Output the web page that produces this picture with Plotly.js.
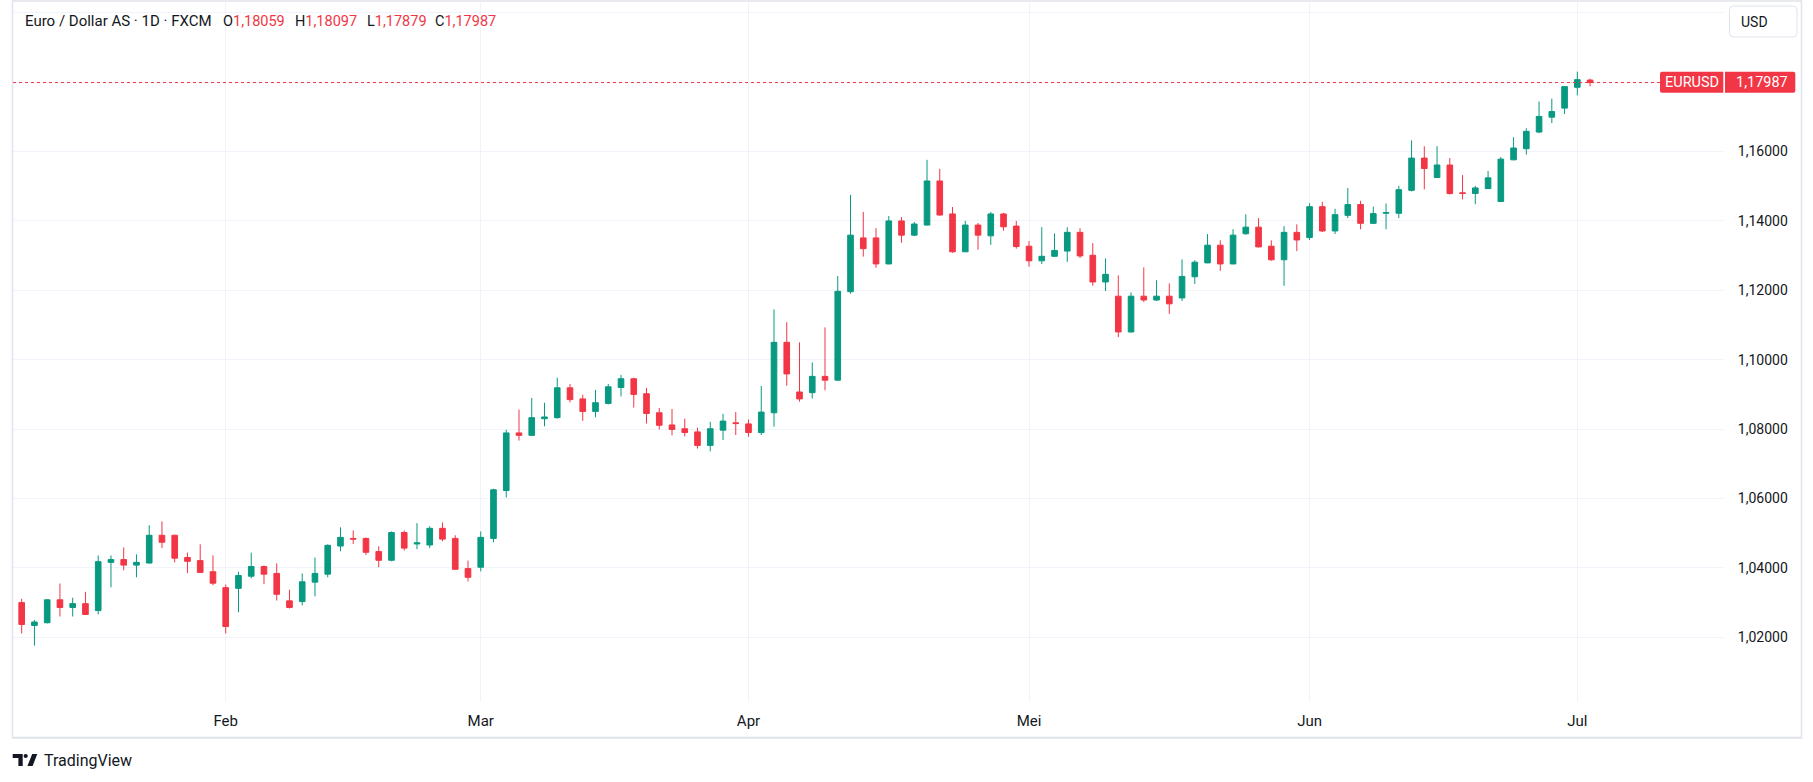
<!DOCTYPE html>
<html>
<head>
<meta charset="utf-8">
<script src="https://cdn.plot.ly/plotly-3.0.1.min.js"></script>
<style>
html,body{margin:0;padding:0;background:#ffffff;}
#chart{width:1813px;height:782px;}
</style>
</head>
<body>
<div id="chart"></div>
<script>
// ---- data (EUR/USD daily, FXCM) ----
const OPEN = [1.0300,1.0234,1.0242,1.0308,1.0286,1.0297,1.0277,1.0416,1.0424,1.0408,
1.0414,1.0494,1.0494,1.0430,1.0421,1.0389,1.0343,1.0341,1.0376,1.0404,
1.0384,1.0305,1.0303,1.0359,1.0382,1.0463,1.0485,1.0485,1.0447,1.0422,
1.0502,1.0469,1.0466,1.0514,1.0485,1.0398,1.0402,1.0485,1.0623,1.0789,
1.0782,1.0830,1.0833,1.0919,1.0887,1.0851,1.0874,1.0920,1.0945,1.0902,
1.0847,1.0812,1.0801,1.0792,1.0753,1.0797,1.0818,1.0815,1.0790,1.0847,
1.1050,1.0907,1.0905,1.0952,1.0941,1.1196,1.1351,1.1351,1.1276,1.1400,
1.1359,1.1388,1.1515,1.1420,1.1311,1.1388,1.1357,1.1420,1.1385,1.1327,
1.1285,1.1298,1.1313,1.1367,1.1301,1.1224,1.1183,1.1080,1.1183,1.1172,
1.1183,1.1178,1.1239,1.1279,1.1330,1.1276,1.1363,1.1382,1.1327,1.1288,
1.1367,1.1352,1.1441,1.1371,1.1416,1.1447,1.1393,1.1422,1.1422,1.1488,
1.1581,1.1525,1.1561,1.1481,1.1479,1.1493,1.1456,1.1576,1.1608,1.1656,
1.1699,1.1725,1.1785,1.18059];
const HIGH = [1.0311,1.0250,1.0310,1.0355,1.0314,1.0331,1.0436,1.0436,1.0459,1.0439,
1.0523,1.0534,1.0496,1.0444,1.0468,1.0436,1.0352,1.0389,1.0444,1.0407,
1.0413,1.0337,1.0384,1.0430,1.0468,1.0517,1.0508,1.0488,1.0462,1.0505,
1.0508,1.0529,1.0520,1.0531,1.0494,1.0421,1.0505,1.0628,1.0798,1.0856,
1.0890,1.0876,1.0948,1.0930,1.0899,1.0913,1.0930,1.0956,1.0948,1.0919,
1.0861,1.0858,1.0830,1.0804,1.0821,1.0844,1.0849,1.0828,1.0924,1.1145,
1.1108,1.1050,1.0992,1.1093,1.1241,1.1475,1.1426,1.1379,1.1414,1.1411,
1.1397,1.1576,1.1550,1.1440,1.1400,1.1394,1.1426,1.1423,1.1400,1.1342,
1.1382,1.1364,1.1382,1.1379,1.1336,1.1292,1.1243,1.1194,1.1266,1.1229,
1.1220,1.1289,1.1287,1.1362,1.1344,1.1376,1.1419,1.1408,1.1344,1.1385,
1.1390,1.1451,1.1455,1.1435,1.1495,1.1458,1.1441,1.1450,1.1501,1.1632,
1.1615,1.1615,1.1581,1.1532,1.1501,1.1544,1.1584,1.1641,1.1667,1.1744,
1.1752,1.1788,1.1830,1.18097];
const LOW = [1.0211,1.0176,1.0240,1.0260,1.0260,1.0264,1.0266,1.0344,1.0393,1.0373,
1.0413,1.0457,1.0416,1.0385,1.0386,1.0350,1.0211,1.0272,1.0370,1.0353,
1.0306,1.0283,1.0292,1.0318,1.0373,1.0448,1.0469,1.0437,1.0402,1.0419,
1.0450,1.0454,1.0457,1.0477,1.0395,1.0361,1.0390,1.0474,1.0603,1.0767,
1.0781,1.0808,1.0830,1.0877,1.0824,1.0834,1.0871,1.0894,1.0862,1.0816,
1.0799,1.0782,1.0779,1.0744,1.0736,1.0769,1.0783,1.0778,1.0783,1.0807,
1.0925,1.0879,1.0888,1.0912,1.0940,1.1190,1.1297,1.1265,1.1275,1.1337,
1.1356,1.1387,1.1415,1.1308,1.1310,1.1317,1.1331,1.1372,1.1320,1.1268,
1.1276,1.1296,1.1282,1.1293,1.1213,1.1198,1.1065,1.1078,1.1166,1.1169,
1.1132,1.1169,1.1218,1.1278,1.1256,1.1275,1.1360,1.1324,1.1285,1.1213,
1.1313,1.1345,1.1368,1.1362,1.1408,1.1376,1.1391,1.1376,1.1408,1.1485,
1.1491,1.1524,1.1476,1.1462,1.1448,1.1492,1.1455,1.1575,1.1591,1.1653,
1.1682,1.1708,1.1762,1.17879];
const CLOSE = [1.0237,1.0244,1.0308,1.0286,1.0297,1.0266,1.0418,1.0424,1.0408,1.0416,
1.0494,1.0474,1.0428,1.0419,1.0387,1.0356,1.0231,1.0378,1.0404,1.0382,
1.0324,1.0286,1.0360,1.0384,1.0465,1.0488,1.0483,1.0445,1.0422,1.0502,
1.0457,1.0472,1.0514,1.0483,1.0396,1.0373,1.0488,1.0625,1.0789,1.0782,
1.0833,1.0835,1.0919,1.0885,1.0851,1.0876,1.0922,1.0945,1.0900,1.0845,
1.0811,1.0799,1.0790,1.0753,1.0801,1.0823,1.0816,1.0790,1.0849,1.1050,
1.0959,1.0887,1.0952,1.0941,1.1197,1.1359,1.1320,1.1276,1.1400,1.1359,
1.1391,1.1515,1.1417,1.1311,1.1388,1.1359,1.1420,1.1383,1.1326,1.1285,
1.1298,1.1315,1.1367,1.1299,1.1224,1.1246,1.1080,1.1183,1.1172,1.1183,
1.1161,1.1240,1.1281,1.1330,1.1276,1.1359,1.1382,1.1325,1.1288,1.1367,
1.1345,1.1441,1.1371,1.1418,1.1447,1.1393,1.1421,1.1424,1.1490,1.1581,
1.1551,1.1561,1.1479,1.1479,1.1495,1.1524,1.1578,1.1610,1.1658,1.1701,
1.1715,1.1787,1.1807,1.17987];

const MONTH_TICK_INDEX = [16, 36, 57, 79, 101, 122];
const MONTH_LABELS = ["Feb", "Mar", "Apr", "Mei", "Jun", "Jul"];
const PRICE_TICKS = [1.02, 1.04, 1.06, 1.08, 1.10, 1.12, 1.14, 1.16, 1.18, 1.20];
const PRICE_LABELS = ["1,02000","1,04000","1,06000","1,08000","1,10000","1,12000","1,14000","1,16000","",""];
const SYMBOL = "EURUSD";
const TITLE = "Euro / Dollar AS · 1D · FXCM";
const CURRENCY = "USD";

// ---- layout geometry (pixels) ----
const W = 1813, H = 782;
const PL = 13, PR = 1723, PT = 2, PB = 702;
const px = x => (x - PL) / (PR - PL);
const py = y => (PB - y) / (PB - PT);
const P = (x, y) => px(x) + ',' + py(y);

const UP = '#089981', DOWN = '#F23645', TXT = '#131722', GRID = '#f0f3fa', FRAME = '#e0e3eb';
const FONT = 'Roboto, "Noto Sans", sans-serif';

function rrect(x0, y0, x1, y1, rl, rr) {
  return 'M' + P(x0 + rl, y0) + ' L' + P(x1 - rr, y0) + ' Q' + P(x1, y0) + ' ' + P(x1, y0 + rr) +
    ' L' + P(x1, y1 - rr) + ' Q' + P(x1, y1) + ' ' + P(x1 - rr, y1) +
    ' L' + P(x0 + rl, y1) + ' Q' + P(x0, y1) + ' ' + P(x0, y1 - rl) +
    ' L' + P(x0, y0 + rl) + ' Q' + P(x0, y0) + ' ' + P(x0 + rl, y0) + ' Z';
}

const n = CLOSE.length;
const fmt = v => v.toFixed(5).replace('.', ',');
const last = { o: OPEN[n - 1], h: HIGH[n - 1], l: LOW[n - 1], c: CLOSE[n - 1] };
const lastColor = last.c >= last.o ? UP : DOWN;

const trace = {
  type: 'candlestick',
  x: CLOSE.map((_, i) => i),
  open: OPEN, high: HIGH, low: LOW, close: CLOSE,
  increasing: { line: { color: UP, width: 1 }, fillcolor: UP },
  decreasing: { line: { color: DOWN, width: 1 }, fillcolor: DOWN },
  whiskerwidth: 0,
  hoverinfo: 'skip',
  showlegend: false
};

const shapes = [
  // frame
  { type: 'line', xref: 'paper', yref: 'paper', x0: px(12.5), x1: px(12.5), y0: py(0.5), y1: py(738.5), line: { color: FRAME, width: 1.5 } },
  { type: 'line', xref: 'paper', yref: 'paper', x0: px(12), x1: px(1802), y0: py(1), y1: py(1), line: { color: FRAME, width: 1.5 } },
  { type: 'line', xref: 'paper', yref: 'paper', x0: px(1801.5), x1: px(1801.5), y0: py(0.5), y1: py(738.5), line: { color: FRAME, width: 1.5 } },
  { type: 'line', xref: 'paper', yref: 'paper', x0: px(12), x1: px(1802), y0: py(737.8), y1: py(737.8), line: { color: FRAME, width: 2 } },
  // last price line
  { type: 'line', xref: 'paper', yref: 'y', x0: px(13), x1: px(1660), y0: last.c, y1: last.c, line: { color: lastColor, width: 1, dash: 'dot' } },
  // price labels
  { type: 'path', xref: 'paper', yref: 'paper', path: rrect(1660, 71.7, 1723.3, 92.7, 2, 0), fillcolor: lastColor, line: { width: 0 } },
  { type: 'path', xref: 'paper', yref: 'paper', path: rrect(1725, 71.7, 1795.3, 92.7, 0, 2), fillcolor: lastColor, line: { width: 0 } },
  // USD button
  { type: 'path', xref: 'paper', yref: 'paper', path: rrect(1729.5, 6, 1797, 37, 4, 4), fillcolor: '#ffffff', line: { color: FRAME, width: 1 } },
  // TradingView logo
  { type: 'path', xref: 'paper', yref: 'paper', path: 'M' + P(12.7, 754) + ' L' + P(22.7, 754) + ' L' + P(22.7, 766) + ' L' + P(18.4, 766) + ' L' + P(18.4, 758) + ' L' + P(12.7, 758) + ' Z', fillcolor: TXT, line: { width: 0 } },
  { type: 'circle', xref: 'paper', yref: 'paper', x0: px(23.6), x1: px(27.8), y0: py(753.9), y1: py(758.1), fillcolor: TXT, line: { width: 0 } },
  { type: 'path', xref: 'paper', yref: 'paper', path: 'M' + P(32.2, 754) + ' L' + P(37.3, 754) + ' L' + P(32.6, 766) + ' L' + P(27.4, 766) + ' Z', fillcolor: TXT, line: { width: 0 } }
];

const ann = (text, x, y, opts) => Object.assign({
  text: text, xref: 'paper', yref: 'paper', x: px(x), y: py(y),
  xanchor: 'left', yanchor: 'middle', showarrow: false,
  font: { family: FONT, size: 14.5, color: TXT }
}, opts || {});
const red = v => '<span style="color:' + lastColor + '">' + fmt(v) + '</span>';

const annotations = [
  ann(TITLE, 22.5, 21.3, { font: { family: FONT, size: 15, color: TXT } }),
  ann('O' + red(last.o), 220.5, 21.3),
  ann('H' + red(last.h), 293, 21.3),
  ann('L' + red(last.l), 364.5, 21.3),
  ann('C' + red(last.c), 433.4, 21.3),
  ann(CURRENCY, 1739.5, 21.7, { font: { family: FONT, size: 14, color: TXT } }),
  ann(SYMBOL, 1692, 82.4, { xanchor: 'center', font: { family: FONT, size: 14.5, color: '#ffffff' } }),
  ann(fmt(last.c), 1761.5, 82.4, { xanchor: 'center', font: { family: FONT, size: 14.5, color: '#ffffff' } }),
  ann('TradingView', 41.5, 760.5, { font: { family: FONT, size: 16, color: TXT } })
];

const pxPerBar = 12.751, x0px = 21.7;
const yPerPx = 0.02 / 69.4;
const layout = {
  width: W, height: H, autosize: false,
  margin: { l: PL, r: W - PR, t: PT, b: H - PB, pad: 0 },
  paper_bgcolor: '#ffffff', plot_bgcolor: '#ffffff',
  showlegend: false, hovermode: false, dragmode: false,
  boxgap: 0.37,
  xaxis: {
    range: [(PL - x0px) / pxPerBar, (PR - x0px) / pxPerBar],
    tickmode: 'array', tickvals: MONTH_TICK_INDEX, ticktext: MONTH_LABELS,
    showgrid: true, gridcolor: GRID, gridwidth: 1, zeroline: false, showline: false,
    ticks: 'outside', ticklen: 5, tickcolor: 'rgba(0,0,0,0)',
    tickfont: { family: FONT, size: 15, color: TXT },
    rangeslider: { visible: false }, fixedrange: true
  },
  yaxis: {
    side: 'right',
    range: [1.02 - (PB - 637.3) * yPerPx, 1.16 + (151.5 - PT) * yPerPx],
    tickmode: 'array', tickvals: PRICE_TICKS, ticktext: PRICE_LABELS,
    showgrid: true, gridcolor: GRID, gridwidth: 1, zeroline: false, showline: false,
    ticks: 'outside', ticklen: 11, tickcolor: 'rgba(0,0,0,0)',
    tickfont: { family: FONT, size: 14, color: TXT },
    fixedrange: true
  },
  shapes: shapes,
  annotations: annotations
};

Plotly.newPlot('chart', [trace], layout, { displayModeBar: false, staticPlot: true });
</script>
</body>
</html>
